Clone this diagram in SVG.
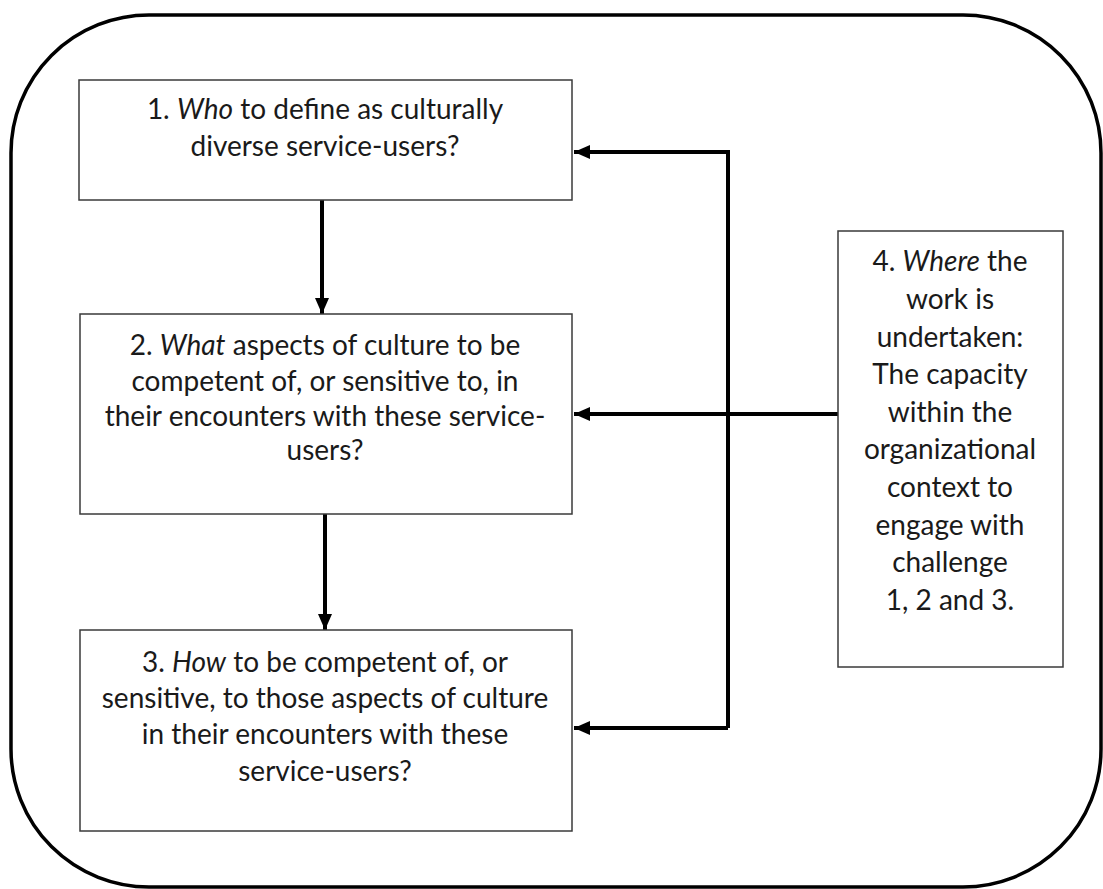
<svg xmlns="http://www.w3.org/2000/svg" width="1103" height="889" viewBox="0 0 1103 889">
<defs>
<style>
.box{fill:#fff;stroke:#3a3a3a;stroke-width:1.5}
.t{font-family:Lato,"Open Sans","Liberation Sans",sans-serif;font-size:28px;fill:#1a1a1a;text-anchor:middle}
.i{font-style:italic}
.c{fill:none;stroke:#000;stroke-width:4}
</style>
<marker id="ah" viewBox="0 0 16 14" markerWidth="16" markerHeight="14" refX="16" refY="7" orient="auto" markerUnits="userSpaceOnUse">
<path d="M0,0 L16,7 L0,14 Z" fill="#000"/>
</marker>
</defs>
<rect width="1103" height="889" fill="#fff"/>
<rect id="frame" x="11" y="15" width="1090" height="872" rx="138" ry="138" fill="none" stroke="#000" stroke-width="3.5"/>
<g id="connectors">
<line class="c" x1="322" y1="200" x2="322" y2="314" marker-end="url(#ah)"/>
<line class="c" x1="325" y1="514" x2="325" y2="630" marker-end="url(#ah)"/>
<polyline class="c" points="728,728 728,152 574,152" marker-end="url(#ah)"/>
<line class="c" x1="728" y1="728" x2="574" y2="728" marker-end="url(#ah)"/>
<line class="c" x1="838" y1="414" x2="574" y2="414" marker-end="url(#ah)"/>
</g>
<g id="node1">
<rect class="box" x="79" y="80" width="493" height="120"/>
<text class="t" x="325" y="119">1. <tspan class="i">Who</tspan> to define as culturally</text>
<text class="t" x="325" y="156">diverse service-users?</text>
</g>
<g id="node2">
<rect class="box" x="80" y="314" width="492" height="200"/>
<text class="t" x="325" y="355">2. <tspan class="i">What</tspan> aspects of culture to be</text>
<text class="t" x="325" y="391">competent of, or sensitive to, in</text>
<text class="t" x="325" y="426">their encounters with these service-</text>
<text class="t" x="325" y="460">users?</text>
</g>
<g id="node3">
<rect class="box" x="80" y="630" width="492" height="201"/>
<text class="t" x="325" y="672">3. <tspan class="i">How</tspan> to be competent of, or</text>
<text class="t" x="325" y="708">sensitive, to those aspects of culture</text>
<text class="t" x="325" y="744">in their encounters with these</text>
<text class="t" x="325" y="781">service-users?</text>
</g>
<g id="node4">
<rect class="box" x="838" y="231" width="225" height="436"/>
<text class="t" x="950" y="271">4. <tspan class="i">Where</tspan> the</text>
<text class="t" x="950" y="309">work is</text>
<text class="t" x="950" y="347">undertaken:</text>
<text class="t" x="950" y="384">The capacity</text>
<text class="t" x="950" y="422">within the</text>
<text class="t" x="950" y="459">organizational</text>
<text class="t" x="950" y="497">context to</text>
<text class="t" x="950" y="535">engage with</text>
<text class="t" x="950" y="572">challenge</text>
<text class="t" x="950" y="610">1, 2 and 3.</text>
</g>
</svg>
